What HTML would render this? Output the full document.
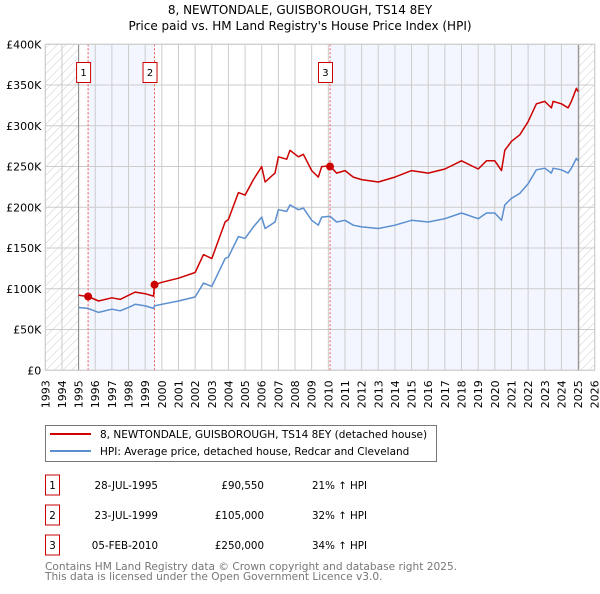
<!DOCTYPE html>
<html><head><meta charset="utf-8"><style>
body{margin:0;background:#fff;font-family:"DejaVu Sans","Liberation Sans",sans-serif;}
svg text{font-family:"DejaVu Sans","Liberation Sans",sans-serif;}
</style></head><body>
<svg id="c" width="600" height="590" xmlns="http://www.w3.org/2000/svg">
<defs><pattern id="hatch" width="6" height="6" patternUnits="userSpaceOnUse" patternTransform="rotate(45)"><line x1="0" y1="0" x2="0" y2="6" stroke="#ccc" stroke-width="1"/></pattern></defs>
<text x="300" y="14" text-anchor="middle" font-size="12">8, NEWTONDALE, GUISBOROUGH, TS14 8EY</text>
<text x="300" y="30" text-anchor="middle" font-size="12">Price paid vs. HM Land Registry's House Price Index (HPI)</text>
<g id="plot"></g>
<g>
<rect x="45.5" y="425.5" width="391" height="36" fill="#fff" stroke="#777"/>
<line x1="50" y1="434" x2="91" y2="434" stroke="#cc0000" stroke-width="2"/>
<text x="100" y="438" font-size="10.5">8, NEWTONDALE, GUISBOROUGH, TS14 8EY (detached house)</text>
<line x1="50" y1="451" x2="91" y2="451" stroke="#5b8fd0" stroke-width="2"/>
<text x="100" y="455" font-size="10.5">HPI: Average price, detached house, Redcar and Cleveland</text>
</g>
<g id="table" font-size="10.3"></g>
<text x="45" y="570" font-size="10.6" fill="#777">Contains HM Land Registry data © Crown copyright and database right 2025.</text>
<text x="45" y="580" font-size="10.6" fill="#777">This data is licensed under the Open Government Licence v3.0.</text>
</svg>
<script>
const years=[1995.0,1995.57,1996.2,1997,1997.5,1998,1998.4,1999.0,1999.5,1999.56,2000,2001,2002,2002.5,2003,2003.8,2004,2004.6,2005,2005.5,2006,2006.2,2006.8,2007,2007.5,2007.7,2008.2,2008.5,2009,2009.4,2009.6,2010.1,2010.5,2011,2011.5,2012,2013,2014,2015,2016,2017,2018,2019,2019.5,2020,2020.4,2020.6,2021,2021.5,2022,2022.5,2023,2023.4,2023.5,2024,2024.4,2024.6,2024.9,2025.0];
const hpiValues=[77,76,71,75,73,77,81,79,76,79,81,85,90,107,103,137,139,164,162,176,188,174,182,197,195,203,197,199,184,178,188,189,182,184,178,176,174,178,184,182,186,193,186,193,193,184,203,211,217,229,246,248,242,248,246,242,248,260,257];
const priceValues=[92,90.5,85,89,87,92,96,94,91,105,108,113,120,142,137,182,185,218,215,234,250,231,242,262,259,270,262,265,245,237,250,251,242,245,237,234,231,237,245,242,247,257,247,257,257,245,270,281,289,305,327,330,322,330,327,322,330,346,342];
const saleYears=[1995.57,1999.56,2010.1];
const saleValues=[90.55,105,250];
const saleLabels=["1","2","3"];
const saleDates=["28-JUL-1995","23-JUL-1999","05-FEB-2010"];
const salePrices=["£90,550","£105,000","£250,000"];
const saleDiffs=["21% ↑ HPI","32% ↑ HPI","34% ↑ HPI"];
const yTicks=[0,50,100,150,200,250,300,350,400];
const yTickLabels=["£0","£50K","£100K","£150K","£200K","£250K","£300K","£350K","£400K"];
const xMin=1993,xMax=2026,dataEnd=2025.04;

const L=45.3,R=594.7,T=44.3,B=370.3;
const X=y=>L+(y-xMin)*(R-L)/(xMax-xMin);
const Y=v=>B-v*(B-T)/400;
const NS="http://www.w3.org/2000/svg";
const plot=document.getElementById('plot');
function mk(tag,attrs,parent){const e=document.createElementNS(NS,tag);for(const k in attrs)e.setAttribute(k,attrs[k]);(parent||plot).appendChild(e);return e;}

let e;
e=mk('rect',{x:L,y:T,width:R-L,height:B-T,fill:'#fff'});


e=mk('rect',{x:L,y:T,width:X(1995)-L,height:B-T,fill:'url(#hatch)'});


e=mk('rect',{x:X(dataEnd),y:T,width:R-X(dataEnd),height:B-T,fill:'url(#hatch)'});


e=mk('rect',{x:X(saleYears[0]),y:T,width:X(saleYears[1])-X(saleYears[0]),height:B-T,fill:'#f3f6fe'});


e=mk('rect',{x:X(saleYears[2]),y:T,width:X(dataEnd)-X(saleYears[2]),height:B-T,fill:'#f3f6fe'});


for(let yr=xMin;yr<=xMax;yr++){
  e=mk('line',{x1:X(yr),x2:X(yr),y1:T,y2:B,stroke:'#ccc','stroke-width':1});
  
  
  const tx=X(yr)+4,ty=B+38;
  e=mk('text',{x:tx,y:ty,'font-size':11,transform:`rotate(-90 ${tx} ${ty})`,fill:'#000'});
  e.textContent=yr;
  
  
}
yTicks.forEach((v,i)=>{
  e=mk('line',{x1:L,x2:R,y1:Y(v),y2:Y(v),stroke:'#ccc','stroke-width':1});
  
  
  e=mk('text',{x:L-4,y:Y(v)+4,'font-size':11,'text-anchor':'end'});
  e.textContent=yTickLabels[i];
  
  
});
e=mk('line',{x1:X(1995),x2:X(1995),y1:T,y2:B,stroke:'#888','stroke-width':1});


e=mk('line',{x1:X(dataEnd),x2:X(dataEnd),y1:T,y2:B,stroke:'#888','stroke-width':1});


saleYears.forEach((s,i)=>{
  e=mk('line',{x1:X(s),x2:X(s),y1:T,y2:B,stroke:'#e55','stroke-width':1,'stroke-dasharray':'2,2'});
  
  
  e=mk('rect',{x:X(s)-11.5,y:62.5,width:14,height:20,fill:'#fff',stroke:'#cc0000'});
  
  
  e=mk('text',{x:X(s)-4.5,y:76,'font-size':10,'text-anchor':'middle'});
  e.textContent=saleLabels[i];
  
  
});
const pts=v=>years.map((y,i)=>X(y).toFixed(1)+','+Y(v[i]).toFixed(1)).join(' ');
e=mk('polyline',{points:pts(hpiValues),fill:'none',stroke:'#5b8fd0','stroke-width':1.5,'stroke-linejoin':'round'});


e=mk('polyline',{points:pts(priceValues),fill:'none',stroke:'#cc0000','stroke-width':1.5,'stroke-linejoin':'round'});


saleYears.forEach((s,i)=>{
  e=mk('circle',{cx:X(s),cy:Y(saleValues[i]),r:4,fill:'#cc0000'});
  
  
});
e=mk('rect',{x:L,y:T,width:R-L,height:B-T,fill:'none',stroke:'#ccc'});


const tb=document.getElementById('table');
saleLabels.forEach((lab,i)=>{
  const cy=485+i*30;
  e=mk('rect',{x:45.5,y:cy-10,width:14,height:20,fill:'#fff',stroke:'#cc0000'},tb);
  
  
  e=mk('text',{x:52.5,y:cy+4,'text-anchor':'middle'},tb);e.textContent=lab;
  
  
  e=mk('text',{x:158,y:cy+4,'text-anchor':'end'},tb);e.textContent=saleDates[i];
  
  
  e=mk('text',{x:264,y:cy+4,'text-anchor':'end'},tb);e.textContent=salePrices[i];
  
  
  e=mk('text',{x:312,y:cy+4},tb);e.textContent=saleDiffs[i];
  
  
});
</script>
</body></html>
